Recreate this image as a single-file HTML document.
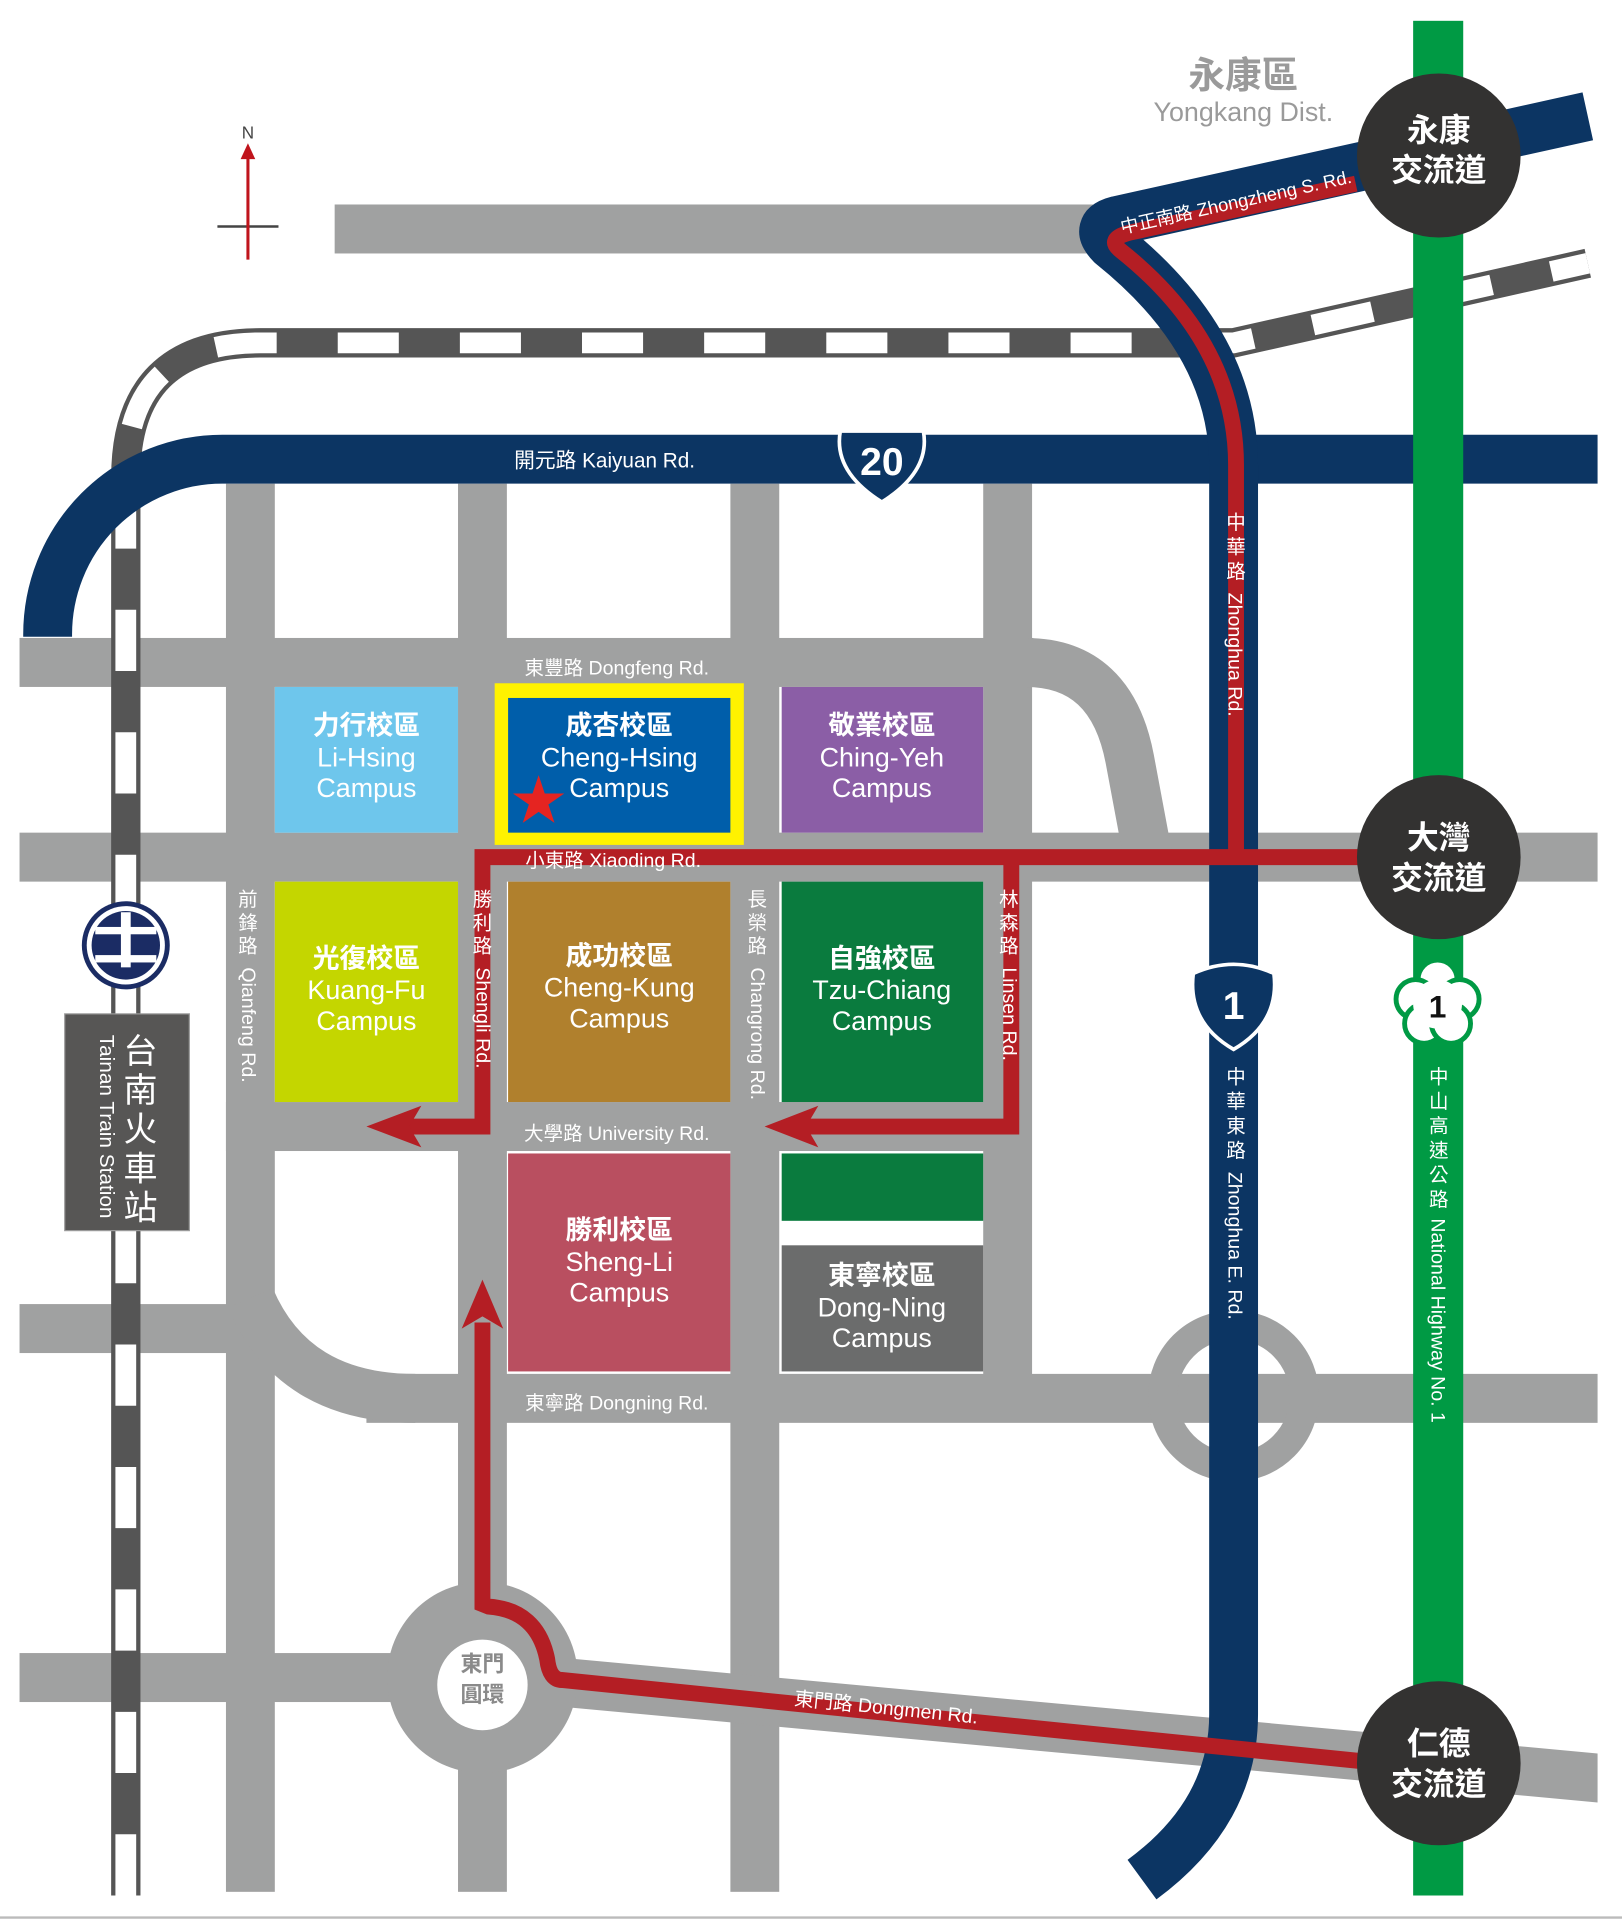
<!DOCTYPE html>
<html><head><meta charset="utf-8"><style>
html,body{margin:0;padding:0;background:#fff}
svg{display:block}
text{font-family:"Liberation Sans","Noto Sans CJK TC",sans-serif}
</style></head><body>
<svg width="1622" height="1920" viewBox="0 0 1328 1568" preserveAspectRatio="none" xmlns="http://www.w3.org/2000/svg">
<rect width="1328" height="1568" fill="#fff"/>
<line x1="0" y1="1566" x2="1328" y2="1566" stroke="#bbb" stroke-width="2"/>
<g fill="#a0a1a1">
<rect x="274" y="167" width="640" height="40"/>
<rect x="16" y="521" width="830" height="40"/>
<rect x="16" y="680" width="1292" height="40"/>
<rect x="185" y="900" width="645" height="40"/>
<rect x="16" y="1065" width="170" height="40"/>
<rect x="300" y="1122" width="1008" height="40"/>
<rect x="16" y="1350" width="380" height="40"/>
<rect x="185" y="395" width="40" height="1150"/>
<rect x="375" y="395" width="40" height="1150"/>
<rect x="598" y="395" width="40" height="1150"/>
<rect x="805" y="395" width="40" height="765"/>
<polygon points="440,1352 1308,1432 1308,1472 440,1392"/>
<circle cx="395" cy="1370" r="78"/>
</g>
<g fill="none" stroke="#a0a1a1" stroke-width="40">
<path d="M840 541 Q910 541 925 620 L940 700"/>
<path d="M205 1060 Q240 1142 340 1142"/>
</g>
<circle cx="1010" cy="1140" r="58" fill="none" stroke="#a0a1a1" stroke-width="24"/>
<circle cx="395" cy="1376" r="37" fill="#fff"/>
<text x="395" y="1365" font-size="18" fill="#8a8a8a" text-anchor="middle" font-weight="bold">東門</text>
<text x="395" y="1390" font-size="18" fill="#8a8a8a" text-anchor="middle" font-weight="bold">圓環</text>
<!-- railway -->
<g fill="none">
<path d="M103 1548 L103 390 Q103 280 213 280 L1010 280 L1300 215" stroke="#555" stroke-width="24"/>
<path d="M103 1548 L103 390 Q103 280 213 280 L1010 280 L1300 215" stroke="#fff" stroke-width="17" stroke-dasharray="50 50"/>
</g>
<!-- Kaiyuan -->
<path d="M1308 375 L182 375 A143 143 0 0 0 39 518 L39 520" fill="none" stroke="#0c3563" stroke-width="40"/>
<!-- campuses -->
<rect x="225" y="561" width="150" height="119" fill="#6ec6ec"/>
<rect x="405" y="558" width="204" height="132" fill="#fff200"/>
<rect x="416" y="570" width="182" height="110" fill="#005eaa"/>
<rect x="640" y="561" width="165" height="119" fill="#8b5ea6"/>
<rect x="225" y="720" width="150" height="180" fill="#c4d600"/>
<rect x="416" y="720" width="182" height="180" fill="#b0802d"/>
<rect x="640" y="720" width="165" height="180" fill="#0a7b3e"/>
<rect x="640" y="942" width="165" height="55" fill="#0a7b3e"/>
<rect x="416" y="942" width="182" height="178" fill="#b94f60"/>
<rect x="640" y="1017" width="165" height="103" fill="#6b6c6c"/>
<g fill="#fff" text-anchor="middle" font-size="22">
<text x="300" y="600" font-weight="bold">力行校區</text><text x="300" y="626">Li-Hsing</text><text x="300" y="651">Campus</text>
<text x="507" y="600" font-weight="bold">成杏校區</text><text x="507" y="626">Cheng-Hsing</text><text x="507" y="651">Campus</text>
<text x="722" y="600" font-weight="bold">敬業校區</text><text x="722" y="626">Ching-Yeh</text><text x="722" y="651">Campus</text>
<text x="300" y="790" font-weight="bold">光復校區</text><text x="300" y="816">Kuang-Fu</text><text x="300" y="841">Campus</text>
<text x="507" y="788" font-weight="bold">成功校區</text><text x="507" y="814">Cheng-Kung</text><text x="507" y="839">Campus</text>
<text x="722" y="790" font-weight="bold">自強校區</text><text x="722" y="816">Tzu-Chiang</text><text x="722" y="841">Campus</text>
<text x="507" y="1012" font-weight="bold">勝利校區</text><text x="507" y="1038">Sheng-Li</text><text x="507" y="1063">Campus</text>
<text x="722" y="1049" font-weight="bold">東寧校區</text><text x="722" y="1075">Dong-Ning</text><text x="722" y="1100">Campus</text>
</g>
<polygon points="441,633 446,648 462,648 449,657 454,672 441,663 428,672 433,657 420,648 436,648" fill="#e52421"/>
<!-- green highway -->
<rect x="1157" y="17" width="41" height="1531" fill="#009a44"/>
<!-- Zhonghua navy -->
<path d="M1300 95 L915 180 Q895 185 910 200 Q1010 280 1010 380 L1010 1400 Q1010 1480 935 1535" fill="none" stroke="#0c3563" stroke-width="40"/>
<!-- red routes -->
<g fill="none" stroke="#b41e24" stroke-width="13">
<path d="M1110 150 L925 190 Q905 195 918 205 Q1012 280 1012 380 L1012 700"/>
<path d="M1112 700 L395 700 L395 920 L330 920"/>
<path d="M828 700 L828 920 L655 920"/>
<path d="M1112 1438 L460 1372 Q450 1372 448 1355 Q440 1315 400 1312 L395 1310 L395 1080"/>
</g>
<g fill="#b41e24">
<polygon points="300,920 345,903 335,920 345,937"/>
<polygon points="626,920 670,903 660,920 670,937"/>
<polygon points="395,1045 378,1085 395,1075 412,1085"/>
</g>
<!-- road labels -->
<g font-size="16" fill="#fff">
<text x="495" y="382" text-anchor="middle" font-size="17">開元路 Kaiyuan Rd.</text>
<text x="505" y="551" text-anchor="middle">東豐路 Dongfeng Rd.</text>
<text x="502" y="708" text-anchor="middle">小東路 Xiaoding Rd.</text>
<text x="505" y="931" text-anchor="middle">大學路 University Rd.</text>
<text x="505" y="1151" text-anchor="middle">東寧路 Dongning Rd.</text>
<text transform="translate(725,1400) rotate(5.8)" text-anchor="middle">東門路 Dongmen Rd.</text>
<text transform="translate(1013,170) rotate(-12.5)" text-anchor="middle" font-size="15">中正南路 Zhongzheng S. Rd.</text>
</g>
<g font-size="16" fill="#fff" text-anchor="middle">
<text x="203" y="740">前</text><text x="203" y="759">鋒</text><text x="203" y="778">路</text>
<text x="395" y="740">勝</text><text x="395" y="759">利</text><text x="395" y="778">路</text>
<text x="620" y="740">長</text><text x="620" y="759">榮</text><text x="620" y="778">路</text>
<text x="826" y="740">林</text><text x="826" y="759">森</text><text x="826" y="778">路</text>
<text x="1012" y="432">中</text><text x="1012" y="452">華</text><text x="1012" y="472">路</text>
<text x="1012" y="885">中</text><text x="1012" y="905">華</text><text x="1012" y="925">東</text><text x="1012" y="945">路</text>
<text x="1178" y="885">中</text><text x="1178" y="905">山</text><text x="1178" y="925">高</text><text x="1178" y="945">速</text><text x="1178" y="965">公</text><text x="1178" y="985">路</text>
</g>
<g font-size="16" fill="#fff" text-anchor="start">
<text transform="translate(198,790) rotate(90)">Qianfeng Rd.</text>
<text transform="translate(390,790) rotate(90)">Shengli Rd.</text>
<text transform="translate(615,790) rotate(90)">Changrong Rd.</text>
<text transform="translate(821,790) rotate(90)">Linsen Rd.</text>
<text transform="translate(1006,484) rotate(90)">Zhonghua Rd.</text>
<text transform="translate(1006,957) rotate(90)">Zhonghua E. Rd.</text>
<text transform="translate(1172,995) rotate(90)">National Highway No. 1</text>
</g>
<!-- shields -->
<path d="M688 352 L756 352 Q762 385 722 410 Q682 385 688 352 Z" fill="#0c3563" stroke="#fff" stroke-width="3"/>
<text x="722" y="388" font-size="32" font-weight="bold" fill="#fff" text-anchor="middle">20</text>
<path d="M977 795 Q1010 780 1043 795 Q1048 835 1010 857 Q972 835 977 795 Z" fill="#0c3563" stroke="#fff" stroke-width="3"/>
<text x="1010" y="832" font-size="32" font-weight="bold" fill="#fff" text-anchor="middle">1</text>
<g fill="#fff" stroke="#009a44" stroke-width="4">
<circle cx="1177" cy="800" r="16"/><circle cx="1159" cy="816" r="16"/><circle cx="1195" cy="816" r="16"/><circle cx="1166" cy="836" r="16"/><circle cx="1188" cy="836" r="16"/>
</g>
<circle cx="1177" cy="820" r="20" fill="#fff"/>
<text x="1177" y="831" font-size="26" font-weight="bold" fill="#111" text-anchor="middle">1</text>
<!-- interchanges -->
<g fill="#333231">
<circle cx="1178" cy="127" r="67"/><circle cx="1178" cy="700" r="67"/><circle cx="1178" cy="1440" r="67"/>
</g>
<g fill="#fff" font-size="26" font-weight="bold" text-anchor="middle">
<text x="1178" y="115">永康</text><text x="1178" y="148">交流道</text>
<text x="1178" y="693">大灣</text><text x="1178" y="726">交流道</text>
<text x="1178" y="1433">仁德</text><text x="1178" y="1466">交流道</text>
</g>
<text x="1018" y="72" font-size="30" fill="#9a9a9a" text-anchor="middle" font-weight="bold">永康區</text>
<text x="1018" y="99" font-size="22" fill="#9a9a9a" text-anchor="middle">Yongkang Dist.</text>
<!-- north arrow -->
<line x1="178" y1="185" x2="228" y2="185" stroke="#444" stroke-width="2"/>
<line x1="203" y1="125" x2="203" y2="212" stroke="#c0141c" stroke-width="2.5"/>
<polygon points="203,117 197,130 209,130" fill="#c0141c"/>
<text x="203" y="113" font-size="14" fill="#444" text-anchor="middle">N</text>
<!-- station -->
<circle cx="103" cy="772" r="36" fill="#1b2c64"/>
<circle cx="103" cy="772" r="32" fill="#fff"/>
<circle cx="103" cy="772" r="28" fill="#1b2c64"/>
<rect x="78" y="757" width="50" height="6" fill="#fff"/>
<rect x="78" y="780" width="50" height="6" fill="#fff"/>
<rect x="99" y="745" width="8" height="45" fill="#fff"/>
<rect x="53" y="828" width="102" height="177" fill="#575655" stroke="#999" stroke-width="1"/>
<g fill="#fff" font-size="28" text-anchor="middle">
<text x="115" y="868">台</text><text x="115" y="900">南</text><text x="115" y="932">火</text><text x="115" y="964">車</text><text x="115" y="996">站</text>
</g>
<text transform="translate(82,845) rotate(90)" font-size="17" fill="#fff">Tainan Train Station</text>
</svg>
</body></html>
